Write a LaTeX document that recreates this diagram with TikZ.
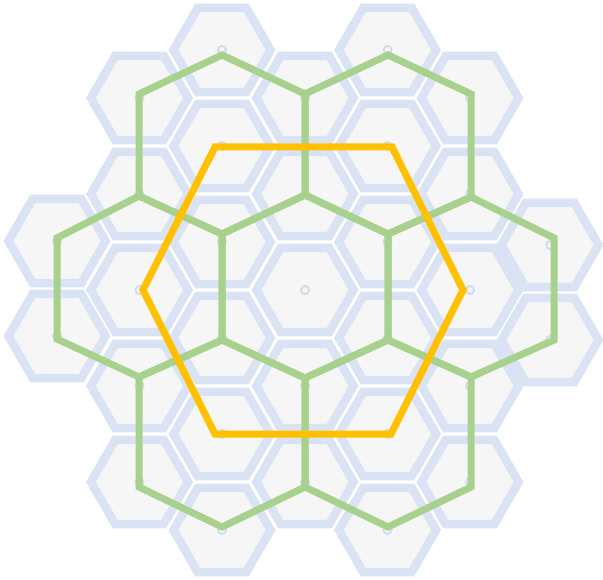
\documentclass[tikz,border=0pt]{standalone}
\definecolor{hexfill}{HTML}{F6F6F6}
\definecolor{hexline}{HTML}{DAE3F3}
\definecolor{dotline}{HTML}{D2DCF0}
\definecolor{grn}{HTML}{A9D18E}
\definecolor{org}{HTML}{FFC000}
\begin{document}
\begin{tikzpicture}[x=1pt,y=-1pt,
  cell/.style={fill=hexfill,draw=hexline,line width=8.5pt,line join=miter},
  centerdot/.style={fill=hexfill,draw=dotline,line width=2pt},
  parenthex/.style={draw=grn,line width=7pt,line join=miter},
  tophex/.style={draw=org,line width=7pt,line join=miter}]
\useasboundingbox (0,0) rectangle (603,580);
% small hexagons
\foreach \x/\y in {57/241,57/336,
  139.5/98,139.5/194,139.5/290,139.5/386,139.5/482,
  222/50,222/146,222/242,222/338,222/434,222/530,
  305/98,305/194,305/290,305/386,305/482,
  387.5/50,387.5/146,387.5/242,387.5/338,387.5/434,387.5/530,
  470/98,470/194,470/290,470/386,470/482,
  550/245,550/340}{
  \draw[cell] (\x+48.6,\y) -- (\x+24.3,\y+42.1) -- (\x-24.3,\y+42.1) -- (\x-48.6,\y) -- (\x-24.3,\y-42.1) -- (\x+24.3,\y-42.1) -- cycle;
  \draw[centerdot] (\x,\y) circle[radius=4pt];
}
% green vertices
\coordinate (a1) at (222,55);  \coordinate (a2) at (388,55);
\coordinate (b1) at (139,94);  \coordinate (b2) at (305,94);  \coordinate (b3) at (471,94);
\coordinate (c1) at (139,196); \coordinate (c2) at (305,195); \coordinate (c3) at (471,197);
\coordinate (d0) at (57,238);  \coordinate (d1) at (222,234); \coordinate (d2) at (388,234); \coordinate (d3) at (554,238);
\coordinate (e0) at (57,339);  \coordinate (e1) at (222,340); \coordinate (e2) at (388,340); \coordinate (e3) at (554,340);
\coordinate (f1) at (139,377); \coordinate (f2) at (305,378); \coordinate (f3) at (471,377);
\coordinate (g1) at (139,487); \coordinate (g2) at (305,487); \coordinate (g3) at (471,487);
\coordinate (h1) at (222,527); \coordinate (h2) at (388,527);
% green hexagons
\draw[parenthex] (a1) -- (b2) -- (c2) -- (d1) -- (c1) -- (b1) -- cycle;
\draw[parenthex] (a2) -- (b3) -- (c3) -- (d2) -- (c2) -- (b2) -- cycle;
\draw[parenthex] (c1) -- (d1) -- (e1) -- (f1) -- (e0) -- (d0) -- cycle;
\draw[parenthex] (c2) -- (d2) -- (e2) -- (f2) -- (e1) -- (d1) -- cycle;
\draw[parenthex] (c3) -- (d3) -- (e3) -- (f3) -- (e2) -- (d2) -- cycle;
\draw[parenthex] (e1) -- (f2) -- (g2) -- (h1) -- (g1) -- (f1) -- cycle;
\draw[parenthex] (e2) -- (f3) -- (g3) -- (h2) -- (g2) -- (f2) -- cycle;
% orange hexagon
\coordinate (o1) at (215,147); \coordinate (o2) at (392,147); \coordinate (o3) at (463,290);
\coordinate (o4) at (391,434); \coordinate (o5) at (215,434); \coordinate (o6) at (143,290);
\draw[tophex] (o1) -- (o2) -- (o3) -- (o4) -- (o5) -- (o6) -- cycle;
\end{tikzpicture}
\end{document}
